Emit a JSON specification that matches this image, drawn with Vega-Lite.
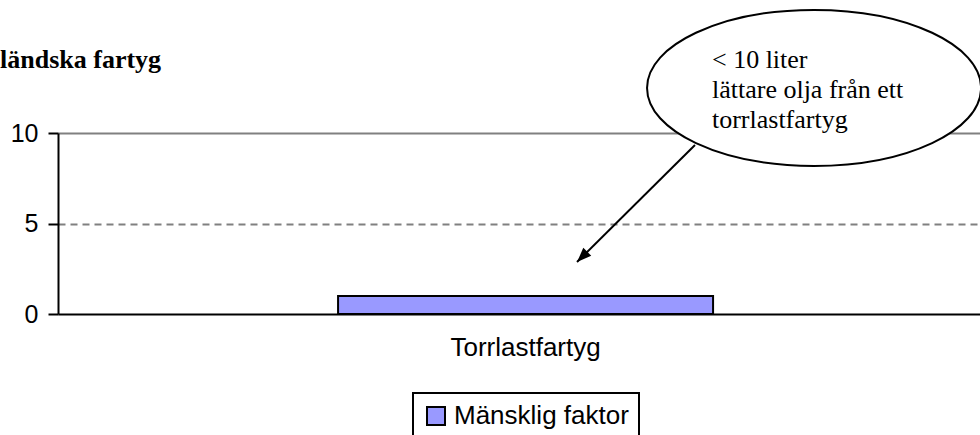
{
  "$schema": "https://vega.github.io/schema/vega-lite/v6.json",
  "width": 922,
  "height": 181,
  "autosize": {"type": "none"},
  "padding": {"left": 58, "top": 133, "right": 0, "bottom": 121},
  "background": "white",
  "data": {"values": [{"category": "Torrlastfartyg", "count": 1, "factor": "Mänsklig faktor"}]},
  "config": {
    "view": {"stroke": null},
    "axis": {"domainColor": "black", "domainWidth": 2, "tickColor": "black", "tickWidth": 2, "labelColor": "black", "labelFont": "Liberation Sans"},
    "legend": {"strokeColor": "black", "strokeWidth": 2, "fillColor": "white", "padding": 10}
  },
  "layer": [
    {
      "mark": {"type": "bar", "stroke": "black", "strokeWidth": 2},
      "encoding": {
        "x": {"field": "category", "type": "nominal", "title": null,
              "scale": {"paddingInner": 0, "paddingOuter": 0.7293, "align": 0.512},
              "axis": {"ticks": false, "labelFontSize": 26, "labelPadding": 20, "labelAngle": 0, "grid": false}},
        "y": {"field": "count", "type": "quantitative", "title": null,
              "scale": {"domain": [0, 10], "nice": false},
              "axis": {"values": [0, 5, 10], "tickSize": 10, "labelFontSize": 25, "labelPadding": 10,
                       "grid": true, "gridColor": "#808080", "gridWidth": 2,
                       "gridDash": {"condition": {"test": "datum.value === 5", "value": [7, 5]}, "value": []},
                       "gridOpacity": {"condition": {"test": "datum.value === 0", "value": 0}, "value": 1}}},
        "color": {"field": "factor", "type": "nominal",
                  "scale": {"domain": ["Mänsklig faktor"], "range": ["#9999FF"]},
                  "legend": {"orient": "none", "legendX": 355, "legendY": 260, "title": null,
                             "symbolType": "square", "symbolSize": 324, "symbolStrokeColor": "black",
                             "symbolStrokeWidth": 2, "symbolOpacity": 1,
                             "labelFont": "Liberation Sans", "labelFontSize": 26, "labelColor": "black",
                             "labelOffset": 5, "labelLimit": 400}}
      }
    },
    {
      "mark": {"type": "rule", "stroke": "black", "strokeWidth": 2},
      "encoding": {
        "x": {"datum": 0.6909, "type": "quantitative", "scale": {"domain": [0, 1]}, "axis": null},
        "y": {"datum": 9.34, "type": "quantitative", "scale": {"domain": [0, 10], "nice": false}, "axis": null},
        "x2": {"datum": 0.5629},
        "y2": {"datum": 2.87}
      }
    },
    {
      "mark": {"type": "point", "shape": "M 0 0 L 0.5 1.3 L -0.5 1.3 Z", "angle": 225, "size": 500,
               "filled": true, "fill": "black", "stroke": null, "opacity": 1},
      "encoding": {
        "x": {"datum": 0.5629, "type": "quantitative", "scale": {"domain": [0, 1]}, "axis": null},
        "y": {"datum": 2.87, "type": "quantitative", "scale": {"domain": [0, 10], "nice": false}, "axis": null}
      }
    },
    {
      "mark": {"type": "point",
               "shape": "M -1 0 C -1 -0.258 -0.552 -0.467 0 -0.467 C 0.552 -0.467 1 -0.258 1 0 C 1 0.258 0.552 0.467 0 0.467 C -0.552 0.467 -1 0.258 -1 0 Z",
               "size": 111556, "filled": true, "fill": "white", "stroke": "black", "strokeWidth": 2, "opacity": 1},
      "encoding": {
        "x": {"datum": 0.82, "type": "quantitative", "scale": {"domain": [0, 1]}, "axis": null},
        "y": {"datum": 12.49, "type": "quantitative", "scale": {"domain": [0, 10], "nice": false}, "axis": null}
      }
    },
    {
      "mark": {"type": "text", "text": ["< 10 liter", "\u00a0lättare olja från ett", "torrlastfartyg"],
               "lineHeight": 30, "font": "Liberation Serif", "fontSize": 26, "align": "left",
               "baseline": "alphabetic", "color": "black"},
      "encoding": {
        "x": {"datum": 0.7093, "type": "quantitative", "scale": {"domain": [0, 1]}, "axis": null},
        "y": {"datum": 13.6, "type": "quantitative", "scale": {"domain": [0, 10], "nice": false}, "axis": null}
      }
    },
    {
      "mark": {"type": "text", "text": "ländska fartyg", "font": "Liberation Serif", "fontSize": 26,
               "fontWeight": "bold", "align": "left", "baseline": "alphabetic", "color": "black"},
      "encoding": {
        "x": {"datum": -0.0629, "type": "quantitative", "scale": {"domain": [0, 1]}, "axis": null},
        "y": {"datum": 13.59, "type": "quantitative", "scale": {"domain": [0, 10], "nice": false}, "axis": null}
      }
    }
  ],
  "resolve": {"scale": {"x": "independent", "y": "independent"}}
}
